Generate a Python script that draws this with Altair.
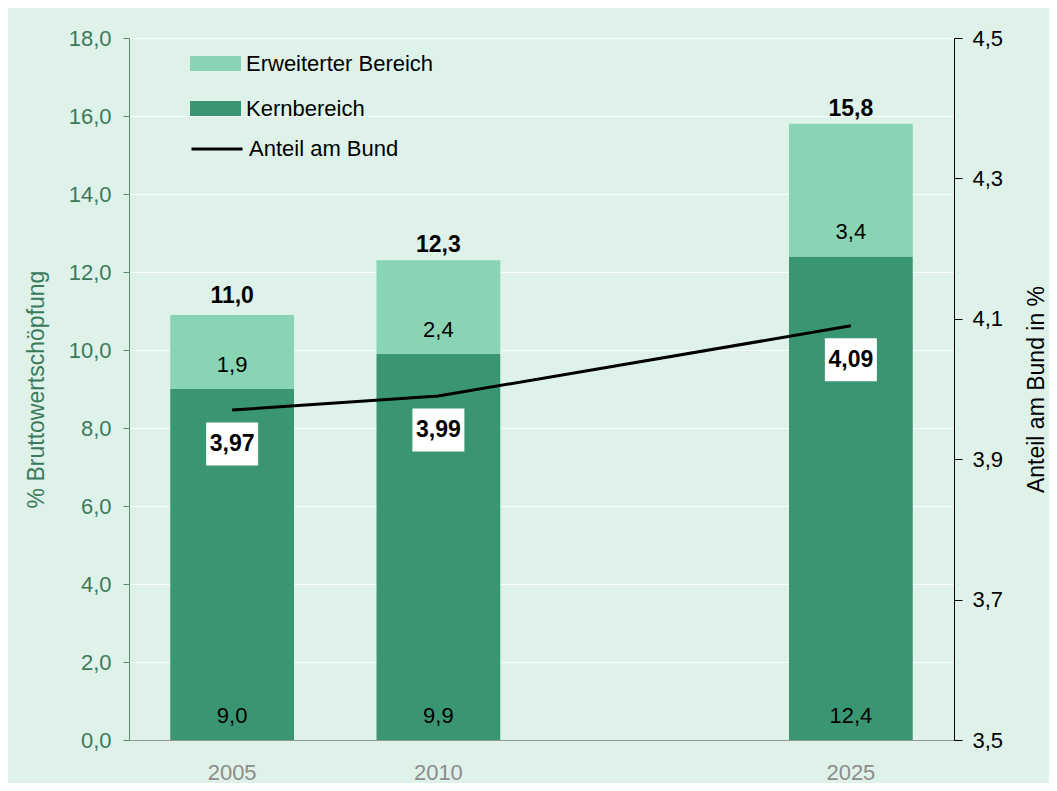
import altair as alt
import pandas as pd

# ---- data ----
years = ["2005", "2010", "2025"]
kern = [9.0, 9.9, 12.4]
erweitert = [1.9, 2.4, 3.4]
totals = [11.0, 12.3, 15.8]
anteil = [3.97, 3.99, 4.09]
x_domain = ["2005", "2010", " ", "2025"]

seg_rows = []
for y, k, e in zip(years, kern, erweitert):
    seg_rows.append({"year": y, "segment": "Kernbereich", "value": k, "ord": 0, "base": 0.0})
    seg_rows.append({"year": y, "segment": "Erweiterter Bereich", "value": e, "ord": 1, "base": k})
seg_df = pd.DataFrame(seg_rows)
tot_df = pd.DataFrame({"year": years, "total": totals})
line_df = pd.DataFrame({"year": years, "anteil": anteil, "series": ["Anteil am Bund"] * 3})

DARK = "#3a9672"
LIGHT = "#88d4b4"
BG = "#dff2ea"
GREEN_TXT = "#3a7a5a"
FONT = "Liberation Sans"
FS = 22
FSB = 23
FT = 23

x_enc = alt.X(
    "year:N",
    scale=alt.Scale(domain=x_domain, paddingInner=0.4, paddingOuter=0.2, align=0.5),
    axis=alt.Axis(title=None, labelAngle=0, labelColor="#8c8c8c", labelFontSize=FS,
                  labelFont=FONT, ticks=False, domainColor="#999999", labelPadding=22),
)

y_left_scale = alt.Scale(domain=[0, 18])
y_left_axis = alt.Axis(
    title="% Bruttowertschöpfung", values=[0, 2, 4, 6, 8, 10, 12, 14, 16, 18],
    labelExpr="replace(format(datum.value, '.1f'), '.', ',')",
    labelColor=GREEN_TXT, titleColor=GREEN_TXT, labelFontSize=FS, titleFontSize=FT,
    labelFont=FONT, titleFont=FONT, titleFontWeight="normal",
    domainColor="#5a8a70", tickColor="#5a8a70", tickSize=6, labelPadding=12,
    titlePadding=20, grid=True, gridColor="#ffffff", gridOpacity=0.8,
)

bars = alt.Chart(seg_df).mark_bar().encode(
    x=x_enc,
    y=alt.Y("value:Q", stack="zero", scale=y_left_scale, axis=y_left_axis),
    color=alt.Color(
        "segment:N",
        scale=alt.Scale(domain=["Erweiterter Bereich", "Kernbereich"], range=[LIGHT, DARK]),
        legend=alt.Legend(
            title=None, orient="none", legendX=61, legendY=0,
            symbolType="M-1,-0.29L1,-0.29L1,0.29L-1,0.29Z", symbolSize=2601,
            symbolStrokeWidth=0, labelFontSize=FS, labelFont=FONT, labelColor="#000000",
            rowPadding=8, padding=0, labelOffset=5, labelLimit=400,
        ),
    ),
    order=alt.Order("ord:Q", sort="ascending"),
)

seg_text = alt.Chart(seg_df).transform_calculate(
    lbl="replace(format(datum.value, '.1f'), '.', ',')"
).mark_text(fontSize=FS, font=FONT, color="#000000", baseline="middle", dy=-24).encode(
    x=x_enc,
    y=alt.Y("base:Q", scale=y_left_scale, axis=y_left_axis),
    text="lbl:N",
)

tot_text = alt.Chart(tot_df).transform_calculate(
    lbl="replace(format(datum.total, '.1f'), '.', ',')"
).mark_text(fontSize=FSB, font=FONT, fontWeight="bold", color="#000000",
            baseline="middle", dy=-15).encode(
    x=x_enc,
    y=alt.Y("total:Q", scale=y_left_scale, axis=y_left_axis),
    text="lbl:N",
)

left = alt.layer(bars, seg_text, tot_text)

y_right_scale = alt.Scale(domain=[3.5, 4.5])
y_right_axis = alt.Axis(
    orient="right", title="Anteil am Bund in %", values=[3.5, 3.7, 3.9, 4.1, 4.3, 4.5],
    labelExpr="replace(format(datum.value, '.1f'), '.', ',')",
    labelColor="#000000", titleColor="#000000", labelFontSize=FS, titleFontSize=FT,
    labelFont=FONT, titleFont=FONT, titleFontWeight="normal", titleAngle=270,
    domainColor="#000000", tickColor="#000000", tickSize=8, labelPadding=10,
    titlePadding=46, grid=False,
)

line = alt.Chart(line_df).mark_line(strokeWidth=3).encode(
    x=x_enc,
    y=alt.Y("anteil:Q", scale=y_right_scale, axis=y_right_axis),
    stroke=alt.Stroke(
        "series:N", scale=alt.Scale(range=["#000000"]),
        legend=alt.Legend(
            title=None, orient="none", legendX=61, legendY=84,
            symbolType="stroke", symbolSize=2601, symbolStrokeWidth=3,
            labelFontSize=FS, labelFont=FONT, labelColor="#000000", padding=0,
            labelOffset=5, labelLimit=400,
        ),
    ),
)

boxes = alt.Chart(line_df).mark_point(
    shape="M-1,-0.827L1,-0.827L1,0.827L-1,0.827Z", size=2704, filled=True,
    fill="#ffffff", opacity=1, strokeWidth=0, yOffset=34,
).encode(
    x=x_enc,
    y=alt.Y("anteil:Q", scale=y_right_scale, axis=y_right_axis),
)

box_text = alt.Chart(line_df).transform_calculate(
    lbl="replace(format(datum.anteil, '.2f'), '.', ',')"
).mark_text(fontSize=FSB, font=FONT, fontWeight="bold", color="#000000",
            baseline="middle", dy=34).encode(
    x=x_enc,
    y=alt.Y("anteil:Q", scale=y_right_scale, axis=y_right_axis),
    text="lbl:N",
)

right = alt.layer(line, boxes, box_text)

chart = alt.layer(left, right).resolve_scale(y="independent").properties(
    width=825, height=702,
    autosize=alt.AutoSizeParams(type="none"),
    padding={"left": 121, "top": 30, "right": 95, "bottom": 43},
    background=BG,
).configure_view(stroke=None)

chart.save("out.html", embed_options={"renderer": "svg", "actions": False})
